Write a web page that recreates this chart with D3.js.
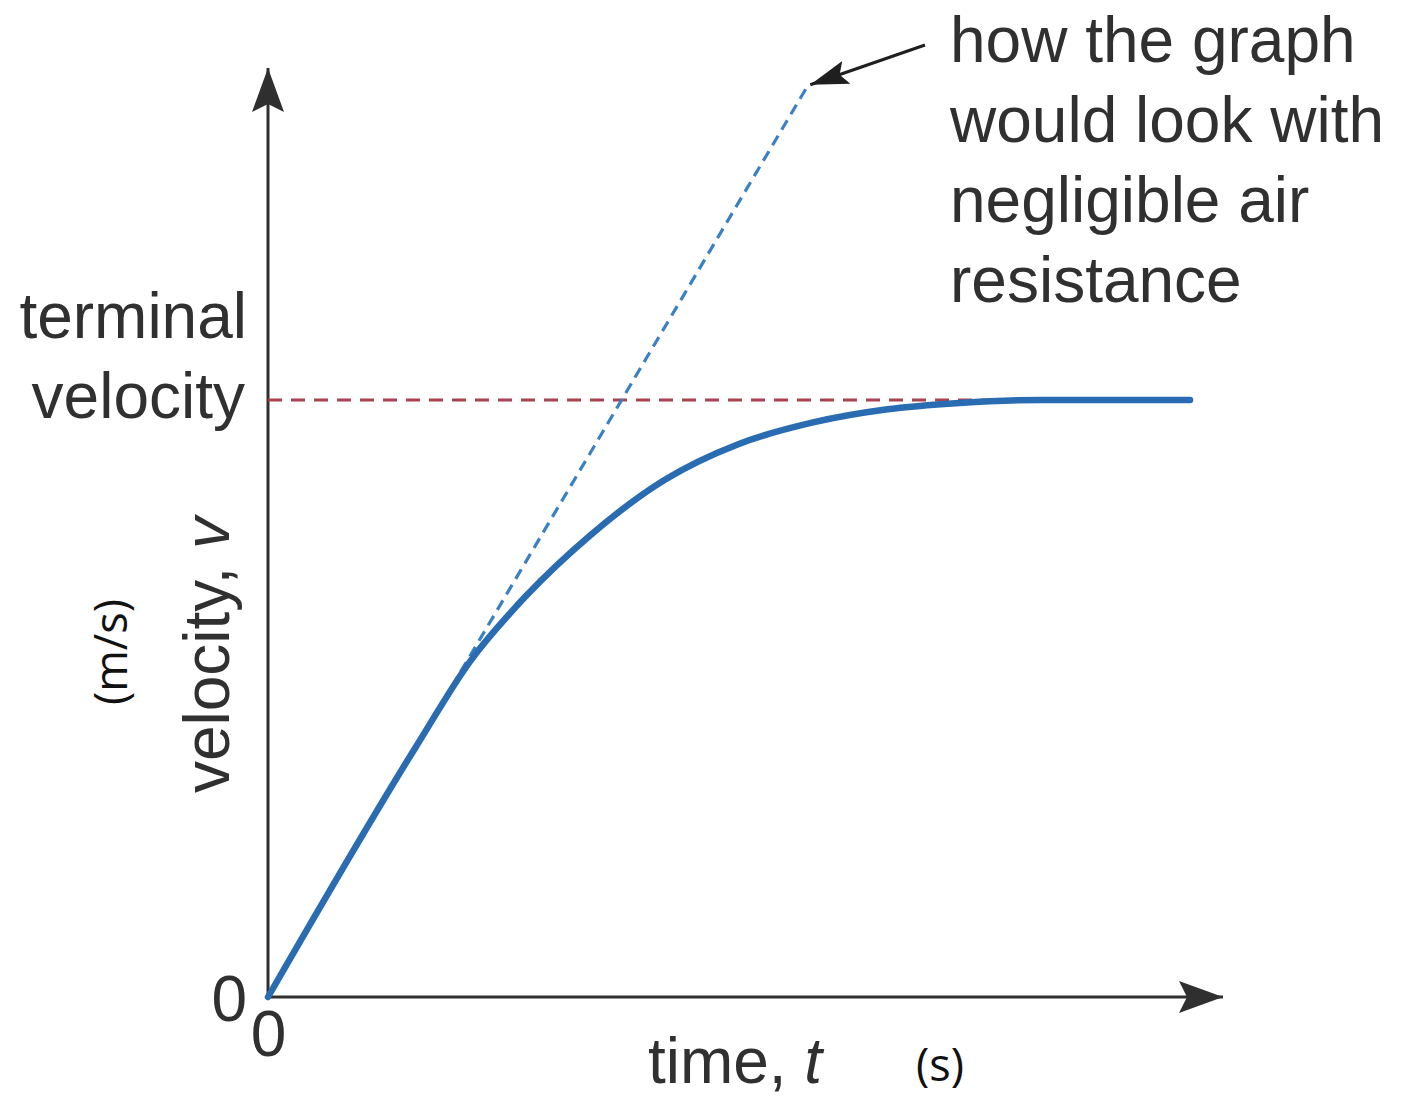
<!DOCTYPE html>
<html>
<head>
<meta charset="utf-8">
<script src="https://cdn.jsdelivr.net/npm/d3@7"></script>
<style>
  html, body { margin: 0; padding: 0; background: #ffffff; }
  svg { display: block; }
  .lbl { font-family: "Liberation Sans", Arial, Helvetica, sans-serif; fill: #303030; }
  .unit { font-family: "Open Sans", "Noto Sans", sans-serif; fill: #111; }
</style>
</head>
<body>
<svg id="chart" width="1413" height="1096"></svg>
<script>
// Falling object with air resistance: velocity against time
const timeS      = [0, 1.6, 2.2, 2.8, 3.5, 4.3, 5.1, 5.9, 6.7, 7.5, 8.4, 10];
const velocityMS = [0, 20.9, 28.2, 33.6, 38.7, 43.3, 46.3, 48.1, 49.2, 49.75, 50.0, 50.0];

// Without air resistance: constant acceleration, straight line
const freeFallT = [0, 5.86];
const freeFallV = [0, 76.4];

// Terminal velocity reference level
const terminalV = 50;
const terminalDashEndT = 8.0;

// Axis tick labels
const xTicks = [0];
const yTicks = [0];

const annotationLines = ["how the graph", "would look with", "negligible air", "resistance"];

const svg = d3.select("#chart");
svg.append("rect").attr("width", 1413).attr("height", 1096).attr("fill", "#fff");

const x = d3.scaleLinear().domain([0, 10]).range([268, 1190]);
const y = d3.scaleLinear().domain([0, 50]).range([997, 400]);

const tAxisEnd = x.invert(1223);
const vAxisEnd = y.invert(68);

const axisColor = "#2f2f2f";

// arrowheads
const defs = svg.append("defs");
function stealth(id, len, half, notch, color) {
  defs.append("marker")
    .attr("id", id)
    .attr("viewBox", `0 ${-half} ${len} ${2 * half}`)
    .attr("refX", len).attr("refY", 0)
    .attr("markerWidth", len).attr("markerHeight", 2 * half)
    .attr("markerUnits", "userSpaceOnUse")
    .attr("orient", "auto")
    .append("path")
    .attr("d", `M0,${-half} L${len},0 L0,${half} L${notch},0 Z`)
    .attr("fill", color);
}
stealth("axisHead", 44, 16, 8, axisColor);
stealth("noteHead", 38, 12, 7, "#1f1f1f");

// axes lines with arrows
svg.append("line")
  .attr("x1", x(0)).attr("y1", y(0))
  .attr("x2", x(0)).attr("y2", y(vAxisEnd))
  .attr("stroke", axisColor).attr("stroke-width", 3)
  .attr("marker-end", "url(#axisHead)");
svg.append("line")
  .attr("x1", x(0)).attr("y1", y(0))
  .attr("x2", x(tAxisEnd)).attr("y2", y(0))
  .attr("stroke", axisColor).attr("stroke-width", 3)
  .attr("marker-end", "url(#axisHead)");

// zero tick labels through d3 axes
const xAxis = svg.append("g")
  .attr("transform", `translate(0,${y(0)})`)
  .call(d3.axisBottom(x).tickValues(xTicks).tickSize(0).tickPadding(14).tickFormat(d3.format("d")));
const yAxis = svg.append("g")
  .attr("transform", `translate(${x(0)},0)`)
  .call(d3.axisLeft(y).tickValues(yTicks).tickSize(0).tickPadding(21).tickFormat(d3.format("d")));
[xAxis, yAxis].forEach(g => {
  g.select(".domain").remove();
  g.selectAll("text")
    .attr("class", "lbl")
    .style("font-size", "64px")
    .attr("fill", "#303030");
});
xAxis.selectAll("text").attr("dy", "0.71em");
yAxis.selectAll("text").attr("dy", "0.36em");

// terminal velocity dashed line
svg.append("line")
  .attr("x1", x(0)).attr("y1", y(terminalV))
  .attr("x2", x(terminalDashEndT)).attr("y2", y(terminalV))
  .attr("stroke", "#a9424f").attr("stroke-width", 3.2)
  .attr("stroke-dasharray", "14,9");

// no-air-resistance dashed line
const freeFall = freeFallT.map((t, i) => [t, freeFallV[i]]);
svg.append("path")
  .datum(freeFall)
  .attr("d", d3.line().x(d => x(d[0])).y(d => y(d[1])))
  .attr("fill", "none")
  .attr("stroke", "#3a80c2").attr("stroke-width", 3.2)
  .attr("stroke-dasharray", "11,7");

// velocity curve
const curve = timeS.map((t, i) => [t, velocityMS[i]]);
svg.append("path")
  .datum(curve)
  .attr("d", d3.line().curve(d3.curveMonotoneX).x(d => x(d[0])).y(d => y(d[1])))
  .attr("fill", "none")
  .attr("stroke", "#2a6cb2").attr("stroke-width", 6.5)
  .attr("stroke-linecap", "round").attr("stroke-linejoin", "round");

// annotation arrow pointing to the top of the dashed line
const tipX = x(freeFallT[1]) + 2, tipY = y(freeFallV[1]);
svg.append("line")
  .attr("x1", 925).attr("y1", 45)
  .attr("x2", tipX).attr("y2", tipY)
  .attr("stroke", "#1f1f1f").attr("stroke-width", 3)
  .attr("marker-end", "url(#noteHead)");

svg.append("text").attr("class", "lbl")
  .attr("x", 950).attr("y", 62)
  .style("font-size", "64px")
  .selectAll("tspan").data(annotationLines).join("tspan")
  .attr("x", 950).attr("dy", (d, i) => i === 0 ? 0 : 80)
  .text(d => d);

// terminal velocity label
svg.append("text").attr("class", "lbl")
  .attr("x", 247).attr("y", 338)
  .attr("text-anchor", "end")
  .style("font-size", "64px")
  .text("terminal");
svg.append("text").attr("class", "lbl")
  .attr("x", 245).attr("y", 418)
  .attr("text-anchor", "end")
  .style("font-size", "64px")
  .text("velocity");

// axis titles
const yTitle = svg.append("text").attr("class", "lbl")
  .attr("transform", "translate(229,655) rotate(-90)")
  .attr("text-anchor", "middle")
  .style("font-size", "64px");
yTitle.append("tspan").text("velocity, ");
yTitle.append("tspan").style("font-style", "italic").text("v");

svg.append("text").attr("class", "unit")
  .attr("transform", "translate(127,652) rotate(-90)")
  .attr("text-anchor", "middle")
  .style("font-size", "45px")
  .text("(m/s)");

const xTitle = svg.append("text").attr("class", "lbl")
  .attr("x", 735).attr("y", 1083)
  .attr("text-anchor", "middle")
  .style("font-size", "64px");
xTitle.append("tspan").text("time, ");
xTitle.append("tspan").style("font-style", "italic").text("t");

svg.append("text").attr("class", "unit")
  .attr("x", 940).attr("y", 1081)
  .attr("text-anchor", "middle")
  .style("font-size", "45px")
  .text("(s)");
</script>
</body>
</html>
